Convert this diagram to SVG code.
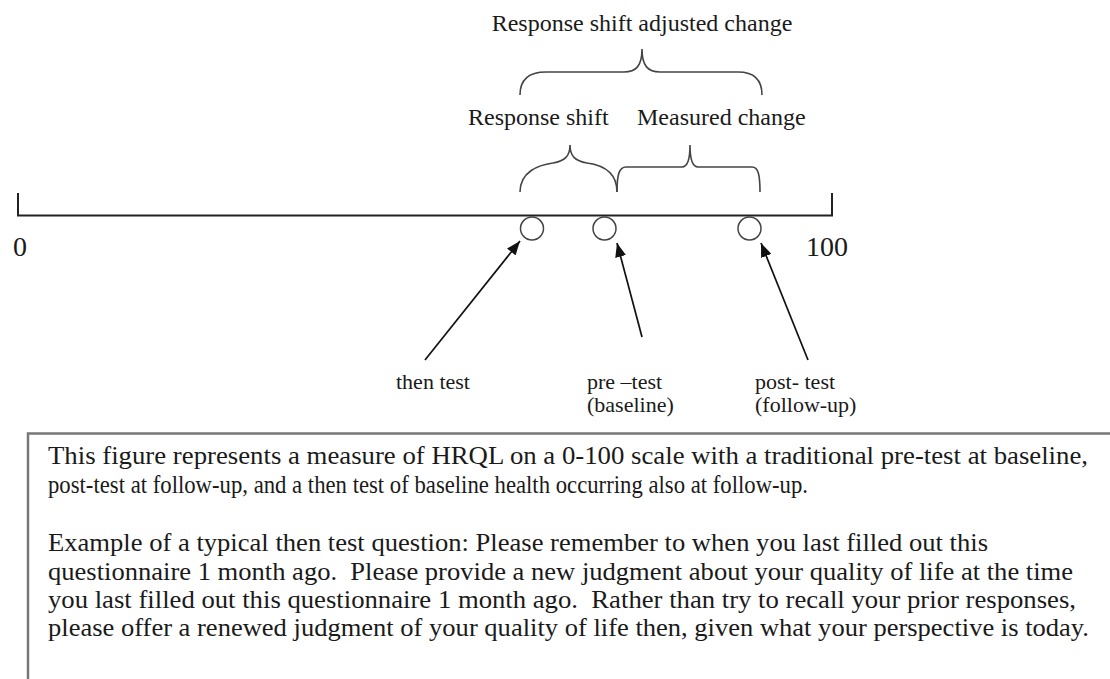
<svg xmlns="http://www.w3.org/2000/svg" width="1110" height="679" viewBox="0 0 1110 679">
<style>
text{font-family:"Liberation Serif","Times New Roman",serif;fill:#1a1a1a}
.top{font-size:24px}
.lbl{font-size:22px}
.num{font-size:28px}
.body{font-size:25.5px;white-space:pre}
.brace{fill:none;stroke:#444;stroke-width:1.6}
.axis{fill:none;stroke:#222;stroke-width:2}
.pt{fill:none;stroke:#444;stroke-width:1.5}
.arr{stroke:#111;stroke-width:1.7;fill:none;marker-end:url(#ah)}
</style>
<defs>
<marker id="ah" viewBox="0 0 14 11" refX="14" refY="5.5" markerWidth="14" markerHeight="11" markerUnits="userSpaceOnUse" orient="auto">
<path d="M0,0 L14,5.5 L0,11 z" fill="#111"/>
</marker>
</defs>
<rect width="1110" height="679" fill="#fff"/>
<g id="scale">
<path class="axis" d="M18,193 L18,215.5 L832,215.5 L832,193"/>
<text class="num" x="13" y="256">0</text>
<text class="num" x="806" y="256">100</text>
</g>
<g id="braces">
<path class="brace" d="M520,95 C520,80 528,72 546,72 L624,72 C636,72 642,66 642,49 C642,66 648,72 660,72 L738,72 C754,72 762,80 762,95"/>
<text class="top" x="642" y="31" text-anchor="middle">Response shift adjusted change</text>
<path class="brace" d="M520,192 C520,172 538,165 553,163 C565,161 570,156 570,145 C570,156 575,161 587,163 C602,165 617,172 617,192"/>
<text class="top" x="468" y="125">Response shift</text>
<path class="brace" d="M617,192 C617,175 619,167 626,167 L682,167 C687,167 690,162 690,145 C690,162 693,167 698,167 L752,167 C758,167 760,174 760,192"/>
<text class="top" x="637" y="125">Measured change</text>
</g>
<g id="then-test">
<ellipse class="pt" cx="532" cy="228.5" rx="11.5" ry="11.5"/>
<text class="lbl" x="396" y="389">then test</text>
</g>
<g id="pre-test">
<ellipse class="pt" cx="604.5" cy="228.5" rx="11.5" ry="11.5"/>
<text class="lbl" x="587" y="389">pre –test</text>
<text class="lbl" x="587" y="412">(baseline)</text>
</g>
<g id="post-test">
<ellipse class="pt" cx="749.5" cy="228.5" rx="11.5" ry="11.5"/>
<text class="lbl" x="755" y="389">post- test</text>
<text class="lbl" x="755" y="412">(follow-up)</text>
</g>
<g id="connectors">
<line class="arr" x1="425" y1="360" x2="520" y2="241"/>
<line class="arr" x1="642" y1="337" x2="617" y2="243"/>
<line class="arr" x1="808" y1="360" x2="761" y2="243"/>
</g>
<g id="caption">
<path d="M28,1110 L28,433.5 L1112,433.5" fill="none" stroke="#777" stroke-width="2.5"/>
<text class="body" x="48" y="464" textLength="1040" lengthAdjust="spacingAndGlyphs">This figure represents a measure of HRQL on a 0-100 scale with a traditional pre-test at baseline,</text>
<text class="body" x="48" y="493" textLength="760" lengthAdjust="spacingAndGlyphs">post-test at follow-up, and a then test of baseline health occurring also at follow-up.</text>
<text class="body" x="48" y="551" textLength="940" lengthAdjust="spacingAndGlyphs">Example of a typical then test question: Please remember to when you last filled out this</text>
<text class="body" x="48" y="580" textLength="1025" lengthAdjust="spacingAndGlyphs">questionnaire 1 month ago.  Please provide a new judgment about your quality of life at the time</text>
<text class="body" x="48" y="608" textLength="1028" lengthAdjust="spacingAndGlyphs">you last filled out this questionnaire 1 month ago.  Rather than try to recall your prior responses,</text>
<text class="body" x="48" y="636" textLength="1041" lengthAdjust="spacingAndGlyphs">please offer a renewed judgment of your quality of life then, given what your perspective is today.</text>
</g>
</svg>
